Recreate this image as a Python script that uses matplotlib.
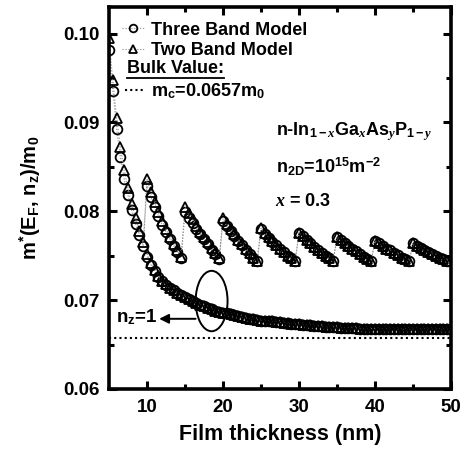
import numpy as np
import matplotlib
matplotlib.use('Agg')
import matplotlib.pyplot as plt
from matplotlib.lines import Line2D
from matplotlib.patches import Ellipse

plt.rcParams['font.family'] = ['Liberation Sans', 'DejaVu Sans']
plt.rcParams['font.weight'] = 'bold'
plt.rcParams['mathtext.fontset'] = 'custom'
plt.rcParams['mathtext.rm'] = 'Liberation Sans:bold'
plt.rcParams['mathtext.bf'] = 'Liberation Sans:bold'
plt.rcParams['mathtext.it'] = 'Liberation Serif:italic'

# film thickness grid (nm), 0.5 nm steps
thickness = np.arange(5.0, 50.01, 0.5)

# n_z = 1 subband, two band model
nz1_two = [0.0995, 0.0948, 0.0905, 0.0872, 0.0846, 0.0826, 0.0808, 0.0792, 0.0778, 0.0765,
           0.0752, 0.0742, 0.0734, 0.0727, 0.0722, 0.0718, 0.0714, 0.0711, 0.0708, 0.0706,
           0.0704, 0.0701, 0.0699, 0.0697, 0.0695, 0.0693, 0.0691, 0.0690, 0.0688, 0.0687,
           0.0686, 0.0685, 0.0684, 0.0683, 0.0682, 0.0681, 0.0680, 0.0679, 0.0679, 0.0678,
           0.0677, 0.0677, 0.0676, 0.0676, 0.0675, 0.0675, 0.0674, 0.0674, 0.0673, 0.0673,
           0.0673, 0.0672, 0.0672, 0.0672, 0.0671, 0.0671, 0.0671, 0.0670, 0.0670, 0.0670,
           0.0670, 0.0669, 0.0669, 0.0669, 0.0669, 0.0669, 0.0668, 0.0668, 0.0668, 0.0668,
           0.0668, 0.0668, 0.0668, 0.0667, 0.0667, 0.0667, 0.0667, 0.0667, 0.0667, 0.0667,
           0.0667, 0.0667, 0.0667, 0.0667, 0.0667, 0.0667, 0.0667, 0.0667, 0.0667, 0.0667,
           0.0667]

# n_z = 1 subband, three band model
nz1_three = [0.0982, 0.0936, 0.0893, 0.0861, 0.0836, 0.0818, 0.0801, 0.0786, 0.0773, 0.0761,
             0.0749, 0.0740, 0.0733, 0.0726, 0.0721, 0.0717, 0.0714, 0.0711, 0.0708, 0.0706,
             0.0704, 0.0701, 0.0699, 0.0697, 0.0695, 0.0693, 0.0691, 0.0690, 0.0688, 0.0687,
             0.0686, 0.0685, 0.0684, 0.0683, 0.0682, 0.0681, 0.0680, 0.0679, 0.0679, 0.0678,
             0.0677, 0.0677, 0.0676, 0.0676, 0.0675, 0.0675, 0.0674, 0.0674, 0.0673, 0.0673,
             0.0673, 0.0672, 0.0672, 0.0672, 0.0671, 0.0671, 0.0671, 0.0670, 0.0670, 0.0670,
             0.0670, 0.0669, 0.0669, 0.0669, 0.0669, 0.0669, 0.0668, 0.0668, 0.0668, 0.0668,
             0.0668, 0.0668, 0.0668, 0.0667, 0.0667, 0.0667, 0.0667, 0.0667, 0.0667, 0.0667,
             0.0667, 0.0667, 0.0667, 0.0667, 0.0667, 0.0667, 0.0667, 0.0667, 0.0667, 0.0667,
             0.0667]

# sawtooth branches (higher subbands filled), thickness 10 .. 49.5 nm
saw_x = np.arange(10.0, 49.51, 0.5)
saw_two = [0.0836, 0.0822, 0.0810, 0.0799, 0.0789, 0.0780, 0.0771, 0.0763, 0.0756, 0.0749,
           0.0805, 0.0798, 0.0791, 0.0784, 0.0777, 0.0771, 0.0765, 0.0759, 0.0753, 0.0747,
           0.0792, 0.0786, 0.0780, 0.0774, 0.0768, 0.0763, 0.0758, 0.0753, 0.0748, 0.0744,
           0.0781, 0.0776, 0.0771, 0.0767, 0.0762, 0.0758, 0.0754, 0.0750, 0.0747, 0.0744,
           0.0776, 0.0772, 0.0768, 0.0764, 0.0760, 0.0756, 0.0753, 0.0750, 0.0747, 0.0744,
           0.0771, 0.0768, 0.0764, 0.0761, 0.0758, 0.0755, 0.0752, 0.0749, 0.0746, 0.0744,
           0.0767, 0.0764, 0.0761, 0.0758, 0.0756, 0.0753, 0.0751, 0.0748, 0.0746, 0.0744,
           0.0764, 0.0761, 0.0759, 0.0756, 0.0754, 0.0752, 0.0750, 0.0748, 0.0746, 0.0744]
saw_three = [0.0829, 0.0816, 0.0805, 0.0795, 0.0785, 0.0777, 0.0769, 0.0761, 0.0754, 0.0748,
             0.0799, 0.0793, 0.0787, 0.0780, 0.0774, 0.0769, 0.0763, 0.0757, 0.0752, 0.0746,
             0.0789, 0.0783, 0.0778, 0.0772, 0.0767, 0.0762, 0.0757, 0.0752, 0.0748, 0.0744,
             0.0780, 0.0775, 0.0770, 0.0766, 0.0762, 0.0758, 0.0754, 0.0750, 0.0747, 0.0744,
             0.0776, 0.0772, 0.0768, 0.0764, 0.0760, 0.0756, 0.0753, 0.0750, 0.0747, 0.0744,
             0.0771, 0.0768, 0.0764, 0.0761, 0.0758, 0.0755, 0.0752, 0.0749, 0.0746, 0.0744,
             0.0767, 0.0764, 0.0761, 0.0758, 0.0756, 0.0753, 0.0751, 0.0748, 0.0746, 0.0744,
             0.0764, 0.0761, 0.0759, 0.0756, 0.0754, 0.0752, 0.0750, 0.0748, 0.0746, 0.0744]

m_bulk = 0.0657

fig = plt.figure(figsize=(4.69, 4.5), dpi=100)
ax = fig.add_axes([0.2324, 0.1356, 0.7292, 0.8488])

line_kw = dict(color='0.55', linestyle=':', linewidth=0.8, markerfacecolor='none',
               markeredgecolor='black', markeredgewidth=1.3)

# sawtooth branch joins the n_z=1 curve below 10 nm
ax.plot(np.concatenate([thickness[:10], saw_x]), nz1_three[:10] + saw_three,
        marker='o', markersize=7, **line_kw)
ax.plot(np.concatenate([thickness[:10], saw_x]), nz1_two[:10] + saw_two,
        marker='^', markersize=7, **line_kw)
ax.plot(thickness[10:], nz1_three[10:], marker='o', markersize=7, **line_kw)
ax.plot(thickness[10:], nz1_two[10:], marker='^', markersize=7, **line_kw)

ax.axhline(m_bulk, color='black', linestyle=(0, (1, 1.5)), linewidth=1.5)

ax.set_xlim(5, 50)
ax.set_ylim(0.06, 0.1030)
ax.set_xticks([10, 20, 30, 40, 50])
ax.set_xticks([15, 25, 35, 45], minor=True)
ax.set_yticks([0.06, 0.07, 0.08, 0.09, 0.10])
ax.set_yticks([0.065, 0.075, 0.085, 0.095], minor=True)
ax.set_yticklabels(['0.06', '0.07', '0.08', '0.09', '0.10'])
ax.tick_params(which='both', direction='in', top=True, right=True, width=2.2, labelsize=13.5)
ax.tick_params(which='major', length=6, pad=7)
ax.tick_params(which='minor', length=3.5)
for s in ax.spines.values():
    s.set_linewidth(2.6)

ax.set_xlabel('Film thickness (nm)', fontsize=15.5, fontweight='bold', labelpad=6)
ax.set_ylabel(r'm$^{*}$(E$_{\mathrm{F}}$, n$_{\mathrm{z}}$)/m$_{\mathrm{0}}$',
              fontsize=14.5, fontweight='bold', labelpad=14)

# legend
h3 = Line2D([], [], marker='o', markersize=5.5, **line_kw)
h2 = Line2D([], [], marker='^', markersize=5.5, **line_kw)
leg1 = ax.legend([h3, h2], ['Three Band Model', 'Two Band Model'], loc='upper left',
                 bbox_to_anchor=(0.0, 0.995), frameon=False, fontsize=13,
                 handlelength=1.3, handletextpad=0.3, labelspacing=0.2, borderaxespad=0.3)
ax.add_artist(leg1)
hb = Line2D([], [], color='black', linestyle=(0, (1, 1.5)), linewidth=1.5)
ax.legend([hb], [r'm$_{\mathrm{c}}$=0.0657m$_{\mathrm{0}}$'], loc='upper left',
          bbox_to_anchor=(0.01, 0.838), frameon=False, fontsize=13,
          handlelength=1.1, handletextpad=0.35, borderaxespad=0.3)
bulk_txt = ax.text(0.053, 0.838, 'Bulk Value:', transform=ax.transAxes, fontsize=13,
                   fontweight='bold', va='center', ha='left')

# sample description
ax.text(27.0, 0.0890, r'n-In$_{1-x}$Ga$_{x}$As$_{y}$P$_{1-y}$', fontsize=13,
        fontweight='bold', va='center')
ax.text(27.0, 0.0850, r'n$_{\mathrm{2D}}$=10$^{\mathrm{15}}$m$^{\mathrm{-2}}$', fontsize=13,
        fontweight='bold', va='center')
ax.text(26.8, 0.0811, r'$x$ = 0.3', fontsize=13, fontweight='bold', va='center')

# n_z = 1 marker
ax.add_patch(Ellipse((18.5, 0.0699), width=4.2, height=0.0068, fill=False,
                     edgecolor='black', linewidth=1.4))
ax.annotate('', xy=(11.6, 0.0679), xytext=(16.4, 0.0679),
            arrowprops=dict(arrowstyle='-|>', color='black', lw=1.4, mutation_scale=14,
                            shrinkA=0, shrinkB=0))
ax.text(11.4, 0.0681, r'n$_{\mathrm{z}}$=1', fontsize=13.5, fontweight='bold',
        va='center', ha='right')

# underline "Bulk Value:"
fig.canvas.draw()
bb = bulk_txt.get_window_extent().transformed(fig.transFigure.inverted())
fig.add_artist(Line2D([bb.x0, bb.x1], [bb.y0 - 0.002, bb.y0 - 0.002],
                      transform=fig.transFigure, color='black', linewidth=1.3))

fig.savefig('out.png', dpi=100)
